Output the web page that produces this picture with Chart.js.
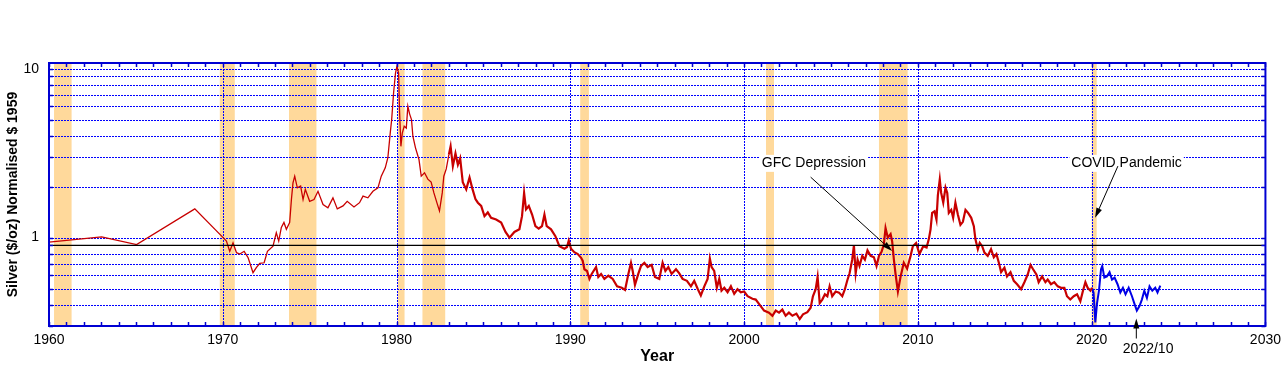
<!DOCTYPE html>
<html>
<head>
<meta charset="utf-8">
<script src="https://cdn.jsdelivr.net/npm/chart.js@4.4.0/dist/chart.umd.min.js"></script>
<style>
  html, body { margin: 0; padding: 0; background: #fff; }
</style>
</head>
<body>
<canvas id="myChart" width="1287" height="369"></canvas>
<script>
//Silver price, normalised to 1959
var redYears = [1960.00, 1961.30, 1963.03, 1965.04, 1968.39, 1970.02, 1970.21, 1970.40, 1970.59, 1970.79,
  1970.98, 1971.23, 1971.46, 1971.74, 1971.93, 1972.13, 1972.38, 1972.57, 1972.89, 1973.08,
  1973.22, 1973.37, 1973.52, 1973.66, 1973.85, 1973.95, 1974.04, 1974.14, 1974.29, 1974.48,
  1974.62, 1974.75, 1975.00, 1975.25, 1975.48, 1975.77, 1976.05, 1976.34, 1976.59, 1976.92,
  1977.16, 1977.55, 1977.87, 1978.07, 1978.35, 1978.64, 1978.93, 1979.12, 1979.35, 1979.50,
  1979.64, 1979.72, 1979.83, 1979.94, 1980.02, 1980.12, 1980.17, 1980.25, 1980.33, 1980.44,
  1980.56, 1980.65, 1980.75, 1980.86, 1980.94, 1981.09, 1981.29, 1981.42, 1981.61, 1981.80,
  1981.99, 1982.15, 1982.32, 1982.47, 1982.63, 1982.72, 1982.86, 1983.01, 1983.11, 1983.24,
  1983.39, 1983.53, 1983.66, 1983.81, 1984.01, 1984.20, 1984.35, 1984.54, 1984.68, 1984.87,
  1985.06, 1985.25, 1985.44, 1985.73, 1986.02, 1986.27, 1986.50, 1986.78, 1987.07, 1987.22,
  1987.34, 1987.45, 1987.61, 1987.80, 1987.99, 1988.18, 1988.37, 1988.51, 1988.64, 1988.89,
  1989.14, 1989.37, 1989.66, 1989.81, 1989.91, 1990.04, 1990.23, 1990.43, 1990.62, 1990.71,
  1990.81, 1990.96, 1991.10, 1991.23, 1991.48, 1991.61, 1991.77, 1991.96, 1992.19, 1992.44,
  1992.69, 1992.96, 1993.15, 1993.34, 1993.49, 1993.59, 1993.72, 1993.91, 1994.07, 1994.26,
  1994.45, 1994.68, 1994.87, 1995.12, 1995.31, 1995.47, 1995.64, 1995.83, 1996.08, 1996.27,
  1996.46, 1996.71, 1996.94, 1997.13, 1997.32, 1997.51, 1997.71, 1997.90, 1998.03, 1998.13,
  1998.28, 1998.43, 1998.57, 1998.70, 1998.86, 1999.05, 1999.24, 1999.43, 1999.62, 1999.81,
  2000.00, 2000.20, 2000.48, 2000.67, 2000.90, 2001.15, 2001.43, 2001.63, 2001.82, 2002.01,
  2002.20, 2002.39, 2002.58, 2002.78, 2003.01, 2003.20, 2003.39, 2003.64, 2003.83, 2003.96,
  2004.12, 2004.23, 2004.35, 2004.50, 2004.65, 2004.79, 2004.92, 2005.07, 2005.27, 2005.46,
  2005.65, 2005.80, 2005.94, 2006.07, 2006.22, 2006.32, 2006.42, 2006.53, 2006.64, 2006.80,
  2006.95, 2007.10, 2007.28, 2007.47, 2007.62, 2007.76, 2007.91, 2008.04, 2008.14, 2008.27,
  2008.43, 2008.52, 2008.62, 2008.71, 2008.85, 2009.00, 2009.19, 2009.38, 2009.58, 2009.71,
  2009.90, 2010.09, 2010.31, 2010.50, 2010.63, 2010.73, 2010.82, 2010.96, 2011.07, 2011.15,
  2011.26, 2011.34, 2011.46, 2011.59, 2011.69, 2011.78, 2011.92, 2012.03, 2012.16, 2012.30,
  2012.45, 2012.59, 2012.74, 2012.89, 2013.07, 2013.22, 2013.31, 2013.45, 2013.56, 2013.70,
  2013.83, 2014.02, 2014.21, 2014.37, 2014.52, 2014.66, 2014.79, 2014.98, 2015.13, 2015.33,
  2015.52, 2015.71, 2015.94, 2016.13, 2016.32, 2016.48, 2016.63, 2016.82, 2016.95, 2017.15,
  2017.34, 2017.47, 2017.66, 2017.85, 2018.05, 2018.24, 2018.43, 2018.58, 2018.77, 2018.97,
  2019.16, 2019.35, 2019.50, 2019.64, 2019.77, 2019.93, 2020.02];
var redValues = [0.94, 0.97, 1.01, 0.91, 1.48, 1.00, 0.955, 0.83, 0.93, 0.815,
  0.80, 0.83, 0.76, 0.62, 0.665, 0.705, 0.71, 0.83, 0.89, 1.07,
  0.955, 1.15, 1.23, 1.12, 1.23, 1.68, 2.11, 2.31, 1.97, 2.02,
  1.68, 1.93, 1.64, 1.68, 1.88, 1.57, 1.50, 1.72, 1.48, 1.54,
  1.64, 1.52, 1.61, 1.76, 1.72, 1.88, 1.97, 2.31, 2.59, 2.97,
  4.2, 5.0, 7.2, 9.4, 10.3, 9.4, 5.7, 3.47, 4.15, 4.56,
  4.45, 5.99, 5.4, 5.0, 3.98, 3.4, 2.9, 2.31, 2.42, 2.22,
  2.13, 1.84, 1.61, 1.44, 1.84, 2.31, 2.55, 3.1, 3.47, 2.65,
  3.15, 2.7, 2.95, 2.13, 1.93, 2.27, 1.97, 1.69, 1.61, 1.54,
  1.34, 1.41, 1.31, 1.28, 1.23, 1.08, 1.00, 1.08, 1.12, 1.34,
  1.84, 1.47, 1.54, 1.37, 1.17, 1.13, 1.17, 1.37, 1.17, 1.12,
  1.02, 0.89, 0.86, 0.88, 0.96, 0.86, 0.82, 0.80, 0.76, 0.73,
  0.65, 0.635, 0.57, 0.61, 0.67, 0.585, 0.61, 0.57, 0.595, 0.57,
  0.515, 0.505, 0.49, 0.61, 0.71, 0.635, 0.525, 0.61, 0.68, 0.71,
  0.67, 0.69, 0.585, 0.57, 0.71, 0.635, 0.67, 0.61, 0.65, 0.615,
  0.57, 0.555, 0.515, 0.555, 0.50, 0.455, 0.515, 0.57, 0.75, 0.67,
  0.635, 0.505, 0.57, 0.485, 0.505, 0.475, 0.515, 0.465, 0.495, 0.475,
  0.48, 0.45, 0.435, 0.43, 0.40, 0.37, 0.36, 0.345, 0.37, 0.36,
  0.375, 0.345, 0.36, 0.345, 0.355, 0.33, 0.352, 0.362, 0.385, 0.45,
  0.495, 0.585, 0.41, 0.43, 0.462, 0.45, 0.515, 0.45, 0.48, 0.473,
  0.45, 0.495, 0.56, 0.615, 0.74, 0.90, 0.615, 0.74, 0.68, 0.78,
  0.74, 0.84, 0.78, 0.765, 0.68, 0.78, 0.825, 0.91, 1.14, 1.00,
  1.05, 0.95, 0.74, 0.615, 0.48, 0.585, 0.71, 0.655, 0.78, 0.89,
  0.93, 0.80, 0.89, 0.875, 0.98, 1.12, 1.40, 1.43, 1.28, 1.78,
  2.21, 1.84, 1.61, 1.98, 1.84, 1.40, 1.46, 1.31, 1.61, 1.37,
  1.19, 1.24, 1.46, 1.40, 1.31, 1.17, 0.98, 0.855, 0.93, 0.89,
  0.815, 0.78, 0.855, 0.765, 0.80, 0.71, 0.625, 0.665, 0.59, 0.625,
  0.555, 0.53, 0.495, 0.545, 0.605, 0.69, 0.65, 0.605, 0.545, 0.59,
  0.545, 0.565, 0.53, 0.545, 0.515, 0.505, 0.505, 0.45, 0.43, 0.45,
  0.462, 0.42, 0.485, 0.545, 0.505, 0.485, 0.505];

//Latest period, drawn in blue
var blueYears = [2020.02, 2020.11, 2020.21, 2020.31, 2020.42, 2020.54, 2020.61, 2020.73, 2020.88, 2021.03,
  2021.17, 2021.32, 2021.49, 2021.65, 2021.80, 2021.95, 2022.13, 2022.32, 2022.45, 2022.60,
  2022.76, 2022.89, 2023.03, 2023.18, 2023.33, 2023.49, 2023.66, 2023.79, 2023.95];
var blueValues = [0.505, 0.473, 0.315, 0.41, 0.485, 0.65, 0.68, 0.58, 0.59, 0.625,
  0.565, 0.58, 0.53, 0.473, 0.505, 0.462, 0.505, 0.45, 0.41, 0.37,
  0.395, 0.43, 0.485, 0.44, 0.515, 0.485, 0.505, 0.473, 0.52];

//Reference level
var refLevel = 0.9;

//Year from which the daily data makes the line look heavier
var denseFrom = 1982.9;

//Recession bands (start / end year)
var bandStart = [1960.29, 1969.83, 1973.81, 1980.07, 1981.49, 1990.57, 2001.26, 2007.76, 2020.00];
var bandEnd   = [1961.30, 1970.69, 1975.39, 1980.46, 1982.80, 1991.07, 2001.72, 2009.41, 2020.29];

//Axis ticks
var xTicks = [1960, 1970, 1980, 1990, 2000, 2010, 2020, 2030];
var yTicks = [0.3, 0.4, 0.5, 0.6, 0.7, 0.8, 0.9, 1, 2, 3, 4, 5, 6, 7, 8, 9, 10];
var yLabelled = [1, 10];

//Annotations: text position and arrow from -> to, in data units
var noteText = ['GFC Depression', 'COVID Pandemic', '2022/10'];
var noteX = [2004.02, 2022.01, 2023.25];
var noteY = [2.77, 2.77, 0.219];
var noteBox = [true, true, false];
var arrowFromX = [2003.83, 2021.51, 2022.57];
var arrowFromY = [2.28, 2.65, 0.253];
var arrowToX = [2008.52, 2020.20, 2022.57];
var arrowToY = [0.833, 1.31, 0.332];

function zip(xs, ys) {
  var out = [];
  for (var i = 0; i < xs.length; i++) {
    out.push({x: xs[i], y: ys[i]});
  }
  return out;
}

var gridBlue = '#0000ff';
var frameBlue = '#0000d2';
var fontName = "'Liberation Sans', Arial, sans-serif";

//Shaded recessions and dotted grid, under the lines
var gridPlugin = {
  id: 'bandsAndGrid',
  beforeDatasetsDraw: function (chart) {
    var ctx = chart.ctx;
    var xs = chart.scales.x;
    var ys = chart.scales.y;
    var area = chart.chartArea;
    ctx.save();
    ctx.fillStyle = 'rgb(255,217,155)';
    for (var i = 0; i < bandStart.length; i++) {
      var a = xs.getPixelForValue(bandStart[i]);
      var b = xs.getPixelForValue(bandEnd[i]);
      ctx.fillRect(a, area.top, b - a, area.bottom - area.top);
    }

    ctx.strokeStyle = gridBlue;
    ctx.lineWidth = 1;
    ctx.setLineDash([2, 1]);
    ctx.beginPath();
    for (var j = 1; j < xTicks.length - 1; j++) {
      var px = Math.round(xs.getPixelForValue(xTicks[j])) + 0.5;
      ctx.moveTo(px, area.top);
      ctx.lineTo(px, area.bottom);
    }
    for (var k = 1; k < yTicks.length; k++) {
      var py = Math.round(ys.getPixelForValue(yTicks[k])) + 0.5;
      ctx.moveTo(area.left, py);
      ctx.lineTo(area.right, py);
    }
    ctx.stroke();
    ctx.restore();
  }
};

function drawArrow(ctx, x1, y1, x2, y2) {
  var ang = Math.atan2(y2 - y1, x2 - x1);
  var len = 10, half = 3;
  ctx.beginPath();
  ctx.moveTo(x1, y1);
  ctx.lineTo(x2 - (len - 2) * Math.cos(ang), y2 - (len - 2) * Math.sin(ang));
  ctx.stroke();
  ctx.beginPath();
  ctx.moveTo(x2, y2);
  ctx.lineTo(x2 - len * Math.cos(ang) + half * Math.sin(ang), y2 - len * Math.sin(ang) - half * Math.cos(ang));
  ctx.lineTo(x2 - len * Math.cos(ang) - half * Math.sin(ang), y2 - len * Math.sin(ang) + half * Math.cos(ang));
  ctx.closePath();
  ctx.fill();
}

//Frame, inward ticks and annotations
var framePlugin = {
  id: 'frame',
  afterDraw: function (chart) {
    var ctx = chart.ctx;
    var xs = chart.scales.x;
    var ys = chart.scales.y;
    var area = chart.chartArea;
    ctx.save();

    //inward tick marks
    ctx.strokeStyle = frameBlue;
    ctx.lineWidth = 1.5;
    ctx.beginPath();
    for (var yr = xTicks[0]; yr <= xTicks[xTicks.length - 1]; yr++) {
      var px = Math.round(xs.getPixelForValue(yr)) + 0.5;
      ctx.moveTo(px, area.top);
      ctx.lineTo(px, area.top + 4);
      ctx.moveTo(px, area.bottom);
      ctx.lineTo(px, area.bottom - 4);
    }
    for (var k = 0; k < yTicks.length; k++) {
      var py = Math.round(ys.getPixelForValue(yTicks[k])) + 0.5;
      ctx.moveTo(area.left, py);
      ctx.lineTo(area.left + 4, py);
      ctx.moveTo(area.right, py);
      ctx.lineTo(area.right - 4, py);
    }
    ctx.stroke();

    //frame
    ctx.lineWidth = 2;
    ctx.strokeRect(area.left, area.top, area.right - area.left, area.bottom - area.top);

    //annotations
    ctx.font = '14px ' + fontName;
    ctx.textAlign = 'center';
    ctx.textBaseline = 'middle';
    ctx.strokeStyle = '#000';
    ctx.lineWidth = 1;
    for (var n = 0; n < noteText.length; n++) {
      var tx = xs.getPixelForValue(noteX[n]);
      var ty = ys.getPixelForValue(noteY[n]);
      if (noteBox[n]) {
        var w = ctx.measureText(noteText[n]).width;
        ctx.fillStyle = '#fff';
        ctx.fillRect(tx - w / 2 - 2, ty - 8, w + 4, 17);
      }
      ctx.fillStyle = '#000';
      ctx.fillText(noteText[n], tx, ty);
      drawArrow(ctx,
        xs.getPixelForValue(arrowFromX[n]), ys.getPixelForValue(arrowFromY[n]),
        xs.getPixelForValue(arrowToX[n]), ys.getPixelForValue(arrowToY[n]));
    }
    ctx.restore();
  }
};

var ctx = document.getElementById('myChart').getContext('2d');

var myChart = new Chart(ctx, {
  type: 'line',
  data: {
    datasets: [{
      label: 'Level 0.9',
      data: [{x: xTicks[0], y: refLevel}, {x: xTicks[xTicks.length - 1], y: refLevel}],
      borderColor: '#000',
      borderWidth: 1.3,
      pointRadius: 0
    }, {
      label: 'Silver',
      data: zip(redYears, redValues),
      borderColor: 'rgb(200,0,0)',
      borderWidth: 1.3,
      pointRadius: 0,
      tension: 0,
      segment: {
        borderWidth: function (c) { return c.p0.parsed.x >= denseFrom ? 2.2 : 1.3; }
      }
    }, {
      label: 'Silver recent',
      data: zip(blueYears, blueValues),
      borderColor: 'rgb(0,0,230)',
      borderWidth: 2,
      pointRadius: 0,
      tension: 0
    }]
  },
  options: {
    responsive: false,
    animation: false,
    events: [],
    layout: { padding: { top: 63, right: 20, left: 0, bottom: 0 } },
    plugins: {
      legend: { display: false },
      tooltip: { enabled: false }
    },
    scales: {
      x: {
        type: 'linear',
        min: 1960,
        max: 2030,
        afterFit: function (scale) { scale.height = 43; },
        afterBuildTicks: function (scale) {
          scale.ticks = xTicks.map(function (v) { return {value: v}; });
        },
        ticks: {
          color: '#000',
          font: { family: fontName, size: 14 },
          padding: 6,
          maxRotation: 0,
          autoSkip: false,
          callback: function (value) { return String(value); }
        },
        grid: { display: false, drawTicks: false },
        border: { display: false },
        title: {
          display: true,
          text: 'Year',
          color: '#000',
          font: { family: fontName, size: 16, weight: 'bold' },
          padding: { top: 0, bottom: 3 }
        }
      },
      y: {
        type: 'logarithmic',
        min: 0.3,
        max: 10.8,
        afterFit: function (scale) { scale.width = 49; },
        afterBuildTicks: function (scale) {
          scale.ticks = yTicks.map(function (v) { return {value: v}; });
        },
        ticks: {
          color: '#000',
          font: { family: fontName, size: 14 },
          padding: 10,
          autoSkip: false,
          callback: function (value) {
            return yLabelled.indexOf(value) >= 0 ? String(value) : '';
          }
        },
        grid: { display: false, drawTicks: false },
        border: { display: false },
        title: {
          display: true,
          text: 'Silver ($/oz) Normalised $ 1959',
          color: '#000',
          font: { family: fontName, size: 14, weight: 'bold' },
          padding: { top: 5, bottom: 0 }
        }
      }
    }
  },
  plugins: [gridPlugin, framePlugin]
});
</script>
</body>
</html>
